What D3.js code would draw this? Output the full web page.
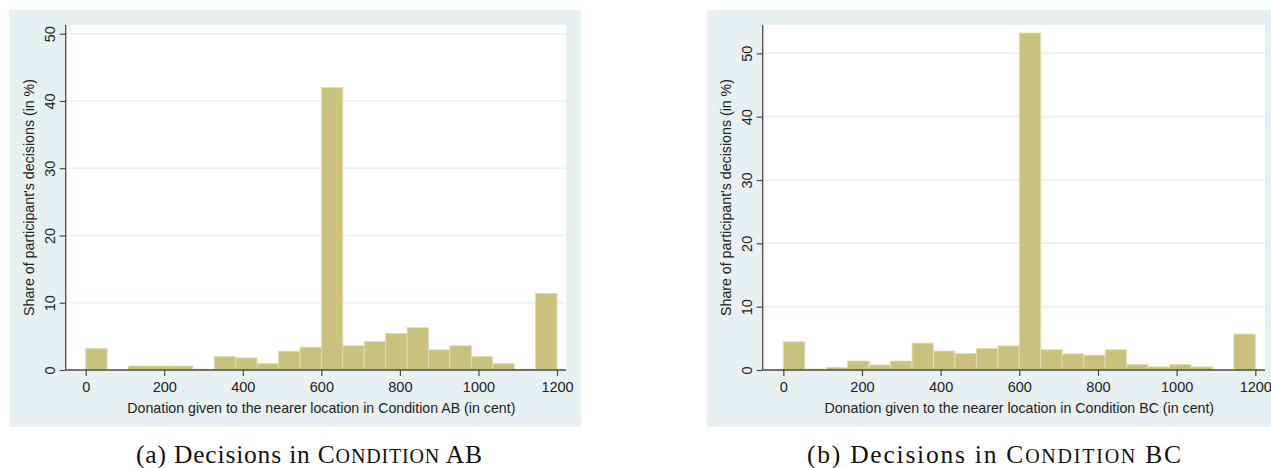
<!DOCTYPE html>
<html>
<head>
<meta charset="utf-8">
<script src="https://cdn.jsdelivr.net/npm/d3@7"></script>
<style>
  html, body { margin: 0; padding: 0; background: #ffffff; }
  svg { display: block; }
</style>
</head>
<body>
<svg id="fig" width="1271" height="468"></svg>
<script>
// Histogram bins: 22 equal-width bins over 0..1200 cent
const binCount = 22;
const binWidth = 1200 / binCount;

// Share of decisions (in %) per bin, Condition AB
const sharesAB = [3.2, 0, 0.6, 0.6, 0.6, 0.12, 2.0, 1.8, 0.95, 2.8, 3.4,
                  42.0, 3.6, 4.25, 5.45, 6.3, 3.0, 3.6, 2.0, 0.95, 0.12, 11.4];

// Share of decisions (in %) per bin, Condition BC
const sharesBC = [4.45, 0.15, 0.42, 1.42, 0.8, 1.42, 4.25, 3.0, 2.6, 3.42, 3.8,
                  53.2, 3.2, 2.55, 2.35, 3.2, 0.9, 0.5, 0.9, 0.5, 0, 5.68];

const xTicks = [0, 200, 400, 600, 800, 1000, 1200];
const yTicks = [0, 10, 20, 30, 40, 50];

const yTitle = "Share of participant's decisions (in %)";
const xTitles = ["Donation given to the nearer location in Condition AB (in cent)",
                 "Donation given to the nearer location in Condition BC (in cent)"];
const captionLabels = [["(a) Decisions in ", "Condition", " AB"],
                       ["(b) Decisions in ", "Condition", " BC"]];

const panels = [
  { values: sharesAB, xTitle: xTitles[0], caption: captionLabels[0],
    bg: [9, 10, 581, 427], plot: [65.7, 25, 566, 370],
    x0: 85.7, x1: 557, yTop: 33.7, captionX: 309, captionW: 346 },
  { values: sharesBC, xTitle: xTitles[1], caption: captionLabels[1],
    bg: [707, 10, 1271, 427], plot: [762.7, 25, 1265, 370],
    x0: 783.3, x1: 1255.3, yTop: 53.3, captionX: 994, captionW: 374 }
];

const svg = d3.select("#fig");
const font = "'Liberation Sans', Arial, sans-serif";
const axisColor = "#4a4a4a";
const barFill = "#c9c27f";
const barEdge = "#e2ddb3";
const gridColor = "#e9f0f2";

panels.forEach(p => {
  const g = svg.append("g");
  const [bx0, by0, bx1, by1] = p.bg;
  const [px0, py0, px1, py1] = p.plot;

  const x = d3.scaleLinear().domain([0, 1200]).range([p.x0, p.x1]);
  const y = d3.scaleLinear().domain([0, 50]).range([py1, p.yTop]);

  // graph region and plot region
  g.append("rect").attr("x", bx0).attr("y", by0)
    .attr("width", bx1 - bx0).attr("height", by1 - by0).attr("fill", "#e8f0f2");
  g.append("rect").attr("x", px0).attr("y", py0)
    .attr("width", px1 - px0).attr("height", py1 - py0).attr("fill", "#ffffff");

  // horizontal grid lines
  g.append("g").selectAll("line").data(yTicks.filter(t => t > 0)).join("line")
    .attr("x1", px0).attr("x2", px1)
    .attr("y1", d => y(d)).attr("y2", d => y(d))
    .attr("stroke", gridColor).attr("stroke-width", 1.6);

  // bars
  g.append("g").selectAll("rect").data(p.values).join("rect")
    .attr("x", (d, i) => x(i * binWidth))
    .attr("width", (d, i) => x((i + 1) * binWidth) - x(i * binWidth))
    .attr("y", d => y(d))
    .attr("height", d => y(0) - y(d))
    .attr("fill", barFill)
    .attr("stroke", d => d > 0 ? barEdge : "none")
    .attr("stroke-width", 0.9);

  // y axis
  const yAxis = d3.axisLeft(y).tickValues(yTicks).tickSize(6).tickPadding(4)
    .tickFormat(d3.format("d"));
  const ya = g.append("g").attr("transform", `translate(${px0},0)`).call(yAxis);
  ya.select(".domain").remove();
  ya.selectAll(".tick line").attr("stroke", axisColor).attr("stroke-width", 1.2);
  ya.selectAll(".tick text")
    .attr("font-family", font).attr("font-size", 14.5).attr("fill", "#222")
    .attr("text-anchor", "middle")
    .attr("x", null).attr("dy", null)
    .attr("transform", "translate(-16,0) rotate(-90)")
    .attr("dominant-baseline", "central");
  g.append("line").attr("x1", px0).attr("x2", px0).attr("y1", py0).attr("y2", py1)
    .attr("stroke", axisColor).attr("stroke-width", 1.3);

  // x axis
  const xAxis = d3.axisBottom(x).tickValues(xTicks).tickSize(6).tickPadding(6)
    .tickFormat(d3.format("d"));
  const xa = g.append("g").attr("transform", `translate(0,${py1})`).call(xAxis);
  xa.select(".domain").remove();
  xa.selectAll(".tick line").attr("stroke", axisColor).attr("stroke-width", 1.2);
  xa.selectAll(".tick text")
    .attr("font-family", font).attr("font-size", 14.5).attr("fill", "#222");
  g.append("line").attr("x1", px0).attr("x2", px1).attr("y1", py1).attr("y2", py1)
    .attr("stroke", axisColor).attr("stroke-width", 1.3);

  // axis titles
  g.append("text")
    .attr("x", (p.x0 + p.x1) / 2).attr("y", 413)
    .attr("text-anchor", "middle")
    .attr("font-family", font).attr("font-size", 14.2).attr("fill", "#222")
    .text(p.xTitle);
  g.append("text")
    .attr("transform", `translate(${px0 - 36.5},${(py0 + py1) / 2}) rotate(-90)`)
    .attr("text-anchor", "middle").attr("dominant-baseline", "central")
    .attr("font-family", font).attr("font-size", 14.2).attr("fill", "#222")
    .text(yTitle);

  // caption with small capitals
  const cap = svg.append("text")
    .attr("x", p.captionX).attr("y", 463)
    .attr("text-anchor", "middle")
    .attr("textLength", p.captionW).attr("lengthAdjust", "spacing")
    .attr("font-family", "'Liberation Serif', 'DejaVu Serif', serif")
    .attr("font-size", 25.5).attr("fill", "#111");
  cap.append("tspan").text(p.caption[0]);
  const word = p.caption[1];
  cap.append("tspan").text(word[0]);
  cap.append("tspan").attr("font-size", 20).text(word.slice(1).toUpperCase());
  cap.append("tspan").text(p.caption[2]);
});
</script>
</body>
</html>
